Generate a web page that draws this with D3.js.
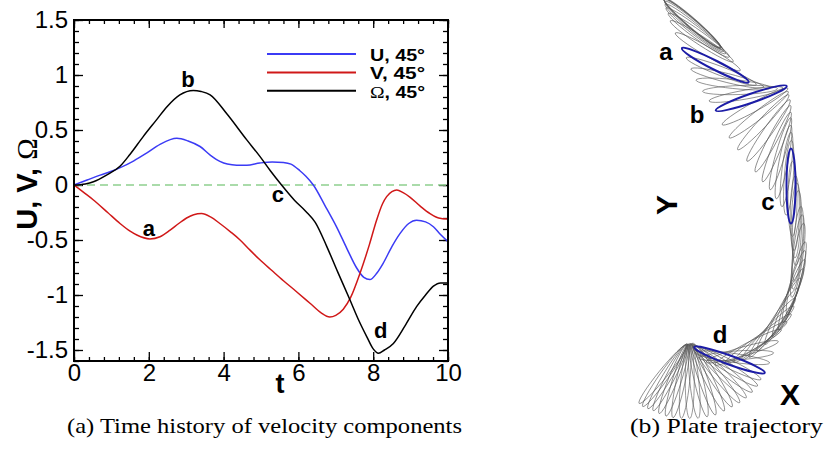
<!DOCTYPE html>
<html>
<head>
<meta charset="UTF-8">
<style>
  body { margin: 0; background: #fff; }
  svg { display: block; font-family: "Liberation Sans", Arial, sans-serif; }
</style>
</head>
<body>
<svg width="827" height="450"></svg>
<script src="https://d3js.org/d3.v7.min.js"></script>
<script>

// ---- panel (a): velocity components vs time ----
const tU = [0, 0.35, 0.7, 1.0, 1.25, 1.6, 1.94, 2.3, 2.75, 3.05, 3.37, 3.65, 3.9, 4.1, 4.35, 4.62, 4.97, 5.3, 5.6, 5.8, 6.04, 6.2, 6.4, 6.7, 7.02, 7.3, 7.55, 7.75, 7.91, 8.1, 8.27, 8.5, 8.72, 8.95, 9.16, 9.4, 9.61, 9.8, 10];
const uVals = [0, 0.045, 0.09, 0.125, 0.16, 0.22, 0.29, 0.37, 0.425, 0.40, 0.35, 0.27, 0.215, 0.19, 0.18, 0.18, 0.20, 0.21, 0.205, 0.19, 0.13, 0.08, 0.0, -0.18, -0.38, -0.58, -0.75, -0.84, -0.86, -0.80, -0.71, -0.56, -0.44, -0.35, -0.32, -0.335, -0.38, -0.45, -0.515];

const tV = [0, 0.25, 0.52, 0.9, 1.23, 1.5, 1.68, 2.03, 2.3, 2.57, 2.8, 3.01, 3.2, 3.41, 3.65, 3.9, 4.2, 4.44, 4.7, 4.97, 5.3, 5.6, 5.95, 6.31, 6.6, 6.84, 7.0, 7.2, 7.4, 7.65, 7.9, 8.09, 8.25, 8.36, 8.5, 8.63, 8.8, 8.98, 9.25, 9.52, 9.75, 10];
const vVals = [0, -0.065, -0.136, -0.25, -0.35, -0.42, -0.455, -0.49, -0.47, -0.41, -0.35, -0.30, -0.27, -0.26, -0.29, -0.35, -0.43, -0.50, -0.59, -0.68, -0.78, -0.87, -0.97, -1.075, -1.16, -1.20, -1.185, -1.13, -1.02, -0.80, -0.54, -0.32, -0.17, -0.106, -0.06, -0.045, -0.07, -0.11, -0.19, -0.26, -0.30, -0.31];

const tOmega = [0, 0.3, 0.52, 0.87, 1.23, 1.5, 1.85, 2.2, 2.48, 2.83, 3.19, 3.4, 3.64, 4.08, 4.62, 4.97, 5.25, 5.55, 5.9, 6.2, 6.45, 6.76, 7.05, 7.38, 7.6, 7.83, 8.0, 8.14, 8.3, 8.54, 8.85, 9.16, 9.4, 9.61, 9.8, 10];
const omegaVals = [0, 0.01, 0.03, 0.09, 0.17, 0.28, 0.44, 0.59, 0.71, 0.82, 0.86, 0.85, 0.82, 0.65, 0.41, 0.26, 0.13, 0.0, -0.14, -0.24, -0.34, -0.56, -0.79, -1.045, -1.22, -1.38, -1.49, -1.53, -1.50, -1.44, -1.28, -1.106, -1.0, -0.92, -0.89, -0.89];

const seriesNames = ["U, 45°", "V, 45°", "Ω, 45°"];
const xTicks = [0, 2, 4, 6, 8, 10];
const yTicks = [-1.5, -1, -0.5, 0, 0.5, 1, 1.5];
const yTickLabels = ["-1.5", "-1", "-0.5", "0", "0.5", "1", "1.5"];

// marked instants a-d, placed next to the curve they sit on
const markNames = ["a", "b", "c", "d"];
const markT = [2.0, 3.05, 5.45, 8.2];
const markV = [-0.46, 0.89, -0.15, -1.39];

// ---- panel (b): plate trajectory (centre in chord lengths, angle in degrees, clockwise) ----
const plateX = [0.00, 0.00, 0.00, 0.01, 0.02, 0.03, 0.05, 0.09, 0.13, 0.21, 0.31, 0.39, 0.47, 0.55, 0.64, 0.72, 0.79, 0.84, 0.89, 0.95, 1.02, 1.08, 1.13, 1.18, 1.22, 1.26, 1.29, 1.32,
    1.34, 1.37, 1.385, 1.40, 1.41, 1.41, 1.41, 1.39, 1.36, 1.33, 1.28, 1.21, 1.14, 1.07, 1.01, 0.94, 0.85, 0.75, 0.67, 0.59, 0.54, 0.50,
    0.47, 0.45, 0.41, 0.37, 0.32, 0.27, 0.21, 0.15, 0.09, 0.03, -0.03, -0.09, -0.15, -0.20, -0.25, -0.29, -0.33, -0.37, -0.39];
const plateY = [0.00, -0.01, -0.01, -0.02, -0.04, -0.07, -0.11, -0.17, -0.25, -0.39, -0.57, -0.65, -0.74, -0.82, -0.90, -0.96, -1.01, -1.12, -1.23, -1.33, -1.44, -1.55, -1.66, -1.75, -1.86, -1.96, -2.07, -2.18,
    -2.35, -2.54, -2.64, -2.74, -2.95, -3.06, -3.17, -3.41, -3.52, -3.63, -3.74, -3.85, -3.96, -4.07, -4.14, -4.21, -4.27, -4.33, -4.39, -4.44, -4.47, -4.50,
    -4.54, -4.58, -4.62, -4.65, -4.68, -4.70, -4.73, -4.76, -4.77, -4.78, -4.78, -4.78, -4.78, -4.77, -4.75, -4.73, -4.72, -4.71, -4.69];
const plateAngle = [41, 41, 41, 40.5, 40, 39, 37.5, 35.5, 33, 30, 27, 21, 14, 6, -2, -10, -19, -29, -38, -47, -55, -62, -68, -74, -79, -83, -86, -90,
    -90, -89, -88.5, -88, -85, -83, -81, -76, -73, -70, -66, -62, -57, -52, -46, -40, -34, -28, -16, -4, 8, 20,
    26, 32, 38, 45, 51, 58, 64, 71, 77, 84, 90, 96, 102, 107, 112, 117, 121, 125, 129];
const plateMarkIndex = [10, 16, 27, 49];

const svg = d3.select("svg");

const x = d3.scaleLinear().domain([0, 10]).range([74, 448]);
const y = d3.scaleLinear().domain([-1.6, 1.5]).range([361, 20]);

// ticks: major + minor, all pointing inward
function minorTicks(lo, hi, step) {
    return d3.range(Math.round((hi - lo) / step) + 1).map(i => +(lo + i * step).toFixed(3));
}
const xMinor = minorTicks(0, 10, 0.4);
const yMinor = minorTicks(-1.6, 1.5, 0.1);

const ax = svg.append("g");
ax.append("g").attr("transform", "translate(0,361)")
    .call(d3.axisBottom(x).tickValues(xMinor).tickSize(-4).tickFormat(""));
ax.append("g").attr("transform", "translate(0,20)")
    .call(d3.axisTop(x).tickValues(xMinor).tickSize(-4).tickFormat(""));
ax.append("g").attr("transform", "translate(74,0)")
    .call(d3.axisLeft(y).tickValues(yMinor).tickSize(-5).tickFormat(""));
ax.append("g").attr("transform", "translate(448,0)")
    .call(d3.axisRight(y).tickValues(yMinor).tickSize(-5).tickFormat(""));

ax.append("g").attr("transform", "translate(0,361)")
    .call(d3.axisBottom(x).tickValues(xTicks).tickSize(-9).tickPadding(3).tickFormat(d => d));
ax.append("g").attr("transform", "translate(0,20)")
    .call(d3.axisTop(x).tickValues(xTicks).tickSize(-8).tickFormat(""));
ax.append("g").attr("transform", "translate(74,0)")
    .call(d3.axisLeft(y).tickValues(yTicks).tickSize(-9).tickPadding(6).tickFormat((d, i) => yTickLabels[i]));
ax.append("g").attr("transform", "translate(448,0)")
    .call(d3.axisRight(y).tickValues(yTicks).tickSize(-9).tickFormat(""));

ax.selectAll(".domain").remove();
ax.selectAll(".tick line").attr("stroke", "#000").attr("stroke-width", 1.3);
ax.selectAll(".tick text").attr("fill", "#000")
    .style("font-size", "24px").style("font-family", "'Liberation Sans', Arial, sans-serif");

// zero line
svg.append("line")
    .attr("x1", x(0)).attr("x2", x(10)).attr("y1", y(0)).attr("y2", y(0))
    .attr("stroke", "#8fd08f").attr("stroke-width", 1.3).attr("stroke-dasharray", "8,5");

// curves
const colors = ["#3b3bf5", "#d01818", "#000000"];
const series = [
    tU.map((t, i) => [t, uVals[i]]),
    tV.map((t, i) => [t, vVals[i]]),
    tOmega.map((t, i) => [t, omegaVals[i]])
];
const line = d3.line().x(d => x(d[0])).y(d => y(d[1])).curve(d3.curveMonotoneX);
svg.append("g").selectAll("path")
    .data(series)
    .enter()
    .append("path")
    .attr("d", line)
    .attr("fill", "none")
    .attr("stroke", (d, i) => colors[i])
    .attr("stroke-width", 1.5);

// frame
svg.append("rect")
    .attr("x", 74).attr("y", 20).attr("width", 374).attr("height", 341)
    .attr("fill", "none").attr("stroke", "#000").attr("stroke-width", 2);

// mark letters
svg.append("g").selectAll("text")
    .data(markNames)
    .enter()
    .append("text")
    .attr("x", (d, i) => x(markT[i]))
    .attr("y", (d, i) => y(markV[i]))
    .attr("text-anchor", "middle")
    .style("font-size", "22px").style("font-weight", "bold")
    .text(d => d);

// legend (text squeezed vertically so the three rows do not collide)
const legend = svg.append("g");
seriesNames.forEach((name, i) => {
    const ly = 54 + i * 18.4;
    legend.append("line")
        .attr("x1", 267).attr("x2", 356).attr("y1", ly).attr("y2", ly)
        .attr("stroke", colors[i]).attr("stroke-width", 2);
    const txt = legend.append("text")
        .attr("x", 370).attr("y", ly + 7)
        .attr("textLength", 55).attr("lengthAdjust", "spacingAndGlyphs")
        .style("font-size", "16px").style("font-weight", "bold");
    if (name[0] === "Ω") {
        txt.append("tspan").style("font-family", "'Liberation Serif', serif").style("font-weight", "normal").text("Ω");
        txt.append("tspan").text(name.slice(1));
    } else {
        txt.text(name);
    }
});

// axis titles
svg.append("text")
    .attr("x", 280).attr("y", 393)
    .attr("text-anchor", "middle")
    .style("font-size", "27px").style("font-weight", "bold")
    .text("t");

const yTitle = svg.append("text")
    .attr("transform", "translate(37,184) rotate(-90)")
    .attr("text-anchor", "middle")
    .style("font-size", "29px").style("font-weight", "bold");
yTitle.append("tspan").text("U, V, ");
yTitle.append("tspan").style("font-family", "'Liberation Serif', serif").style("font-weight", "normal").text("Ω");

// ---- panel (b) ----
const px = d3.scaleLinear().domain([0, 1]).range([692, 767]);
const py = d3.scaleLinear().domain([0, -1]).range([22.5, 97.5]);
const halfChord = (px(1) - px(0)) / 2;
const plates = plateX.map((d, i) => ({ x: d, y: plateY[i], a: plateAngle[i], mark: plateMarkIndex.indexOf(i) }));

svg.append("g").selectAll("ellipse")
    .data(plates.filter(d => d.mark < 0))
    .enter()
    .append("ellipse")
    .attr("transform", d => "translate(" + px(d.x) + "," + py(d.y) + ") rotate(" + d.a + ")")
    .attr("rx", halfChord).attr("ry", 4.5)
    .attr("fill", "none").attr("stroke", "#555").attr("stroke-width", 0.6);

svg.append("g").selectAll("ellipse")
    .data(plates.filter(d => d.mark >= 0))
    .enter()
    .append("ellipse")
    .attr("transform", d => "translate(" + px(d.x) + "," + py(d.y) + ") rotate(" + d.a + ")")
    .attr("rx", halfChord).attr("ry", 4.5)
    .attr("fill", "none").attr("stroke", "#1c1ca6").attr("stroke-width", 2);

// letters beside the highlighted plates
const plateLabelPos = [[666, 60], [697, 123], [768, 210], [720, 343]];
svg.append("g").selectAll("text")
    .data(markNames)
    .enter()
    .append("text")
    .attr("x", (d, i) => plateLabelPos[i][0])
    .attr("y", (d, i) => plateLabelPos[i][1])
    .attr("text-anchor", "middle")
    .style("font-size", "24px").style("font-weight", "bold")
    .text(d => d);

svg.append("text")
    .attr("transform", "translate(677,205) rotate(-90)")
    .attr("text-anchor", "middle")
    .style("font-size", "30px").style("font-weight", "bold")
    .text("Y");
svg.append("text")
    .attr("x", 790).attr("y", 405)
    .attr("text-anchor", "middle")
    .style("font-size", "30px").style("font-weight", "bold")
    .text("X");

// captions
const cap = svg.append("g").style("font-family", "'Liberation Serif', 'DejaVu Serif', serif").style("font-size", "21px");
cap.append("text").attr("x", 67).attr("y", 433)
    .attr("textLength", 395).attr("lengthAdjust", "spacingAndGlyphs")
    .text("(a) Time history of velocity components");
cap.append("text").attr("x", 630).attr("y", 433)
    .attr("textLength", 193).attr("lengthAdjust", "spacingAndGlyphs")
    .text("(b) Plate trajectory");

</script>
</body>
</html>
